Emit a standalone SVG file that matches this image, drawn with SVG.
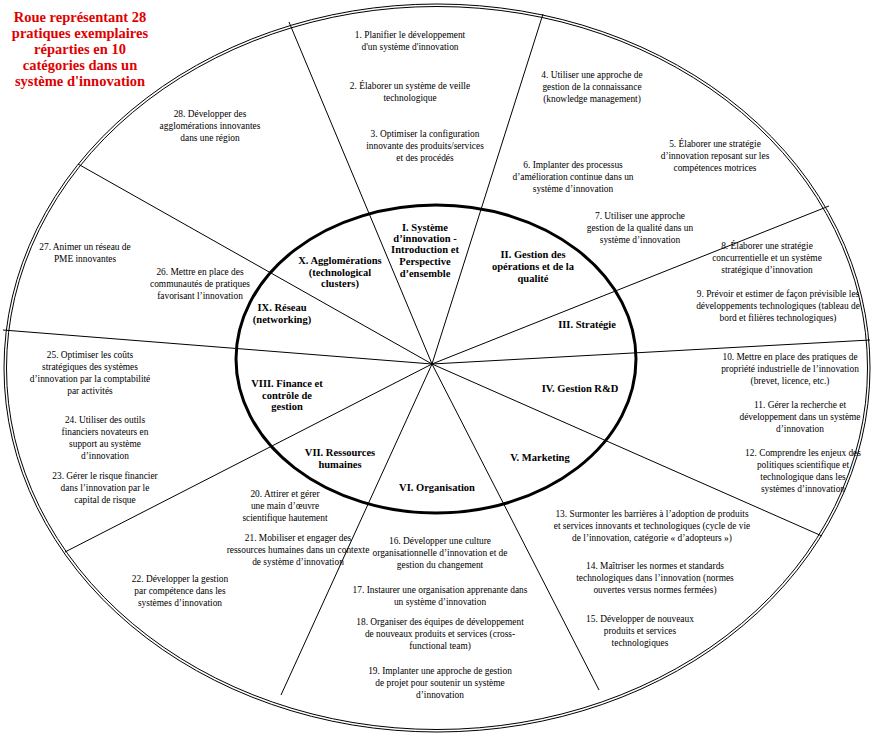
<svg xmlns="http://www.w3.org/2000/svg" width="875" height="737" viewBox="0 0 875 737">
<style>
.t{font-family:"Liberation Serif","Times New Roman","DejaVu Serif",serif;font-size:9.4px;fill:#000;text-anchor:middle}
.c{font-family:"Liberation Serif","Times New Roman","DejaVu Serif",serif;font-size:10.5px;font-weight:bold;fill:#000;text-anchor:middle}
.r{font-family:"Liberation Serif","Times New Roman","DejaVu Serif",serif;font-size:14.5px;font-weight:bold;fill:#e00000;text-anchor:middle}
.s{stroke:#000;stroke-width:1;fill:none}
</style>
<rect width="875" height="737" fill="#fff"/>
<g id="wheel">
<ellipse cx="437" cy="368" rx="433" ry="364" class="s"/>
<ellipse cx="437" cy="368" rx="430.5" ry="361.5" class="s"/>
</g>
<g id="connectors" class="s">
<line x1="432" y1="364" x2="289" y2="22"/>
<line x1="432" y1="364" x2="543" y2="14"/>
<line x1="432" y1="364" x2="829" y2="206"/>
<line x1="432" y1="364" x2="870" y2="340"/>
<line x1="432" y1="364" x2="822" y2="536"/>
<line x1="432" y1="364" x2="599" y2="690"/>
<line x1="432" y1="364" x2="281" y2="695"/>
<line x1="432" y1="364" x2="65" y2="552"/>
<line x1="432" y1="364" x2="3" y2="330"/>
<line x1="432" y1="364" x2="78" y2="164"/>
</g>
<g id="hub"><ellipse cx="436" cy="359" rx="200" ry="154" fill="none" stroke="#000" stroke-width="3"/></g>
<g id="title"><text class="r"><tspan x="80" y="22">Roue représentant 28</tspan><tspan x="80" y="38">pratiques exemplaires</tspan><tspan x="80" y="54">réparties en 10</tspan><tspan x="80" y="70">catégories dans un</tspan><tspan x="80" y="86">système d'innovation</tspan></text></g>
<g id="cat1"><text class="c"><tspan x="425" y="231">I. Système</tspan><tspan x="425" y="242">d’innovation -</tspan><tspan x="425" y="253">Introduction et</tspan><tspan x="425" y="265">Perspective</tspan><tspan x="425" y="277">d’ensemble</tspan></text></g>
<g id="cat2"><text class="c"><tspan x="533" y="258">II. Gestion des</tspan><tspan x="533" y="270">opérations et de la</tspan><tspan x="533" y="282">qualité</tspan></text></g>
<g id="cat3"><text class="c" x="587" y="328">III. Stratégie</text></g>
<g id="cat4"><text class="c" x="580" y="392">IV. Gestion R&amp;D</text></g>
<g id="cat5"><text class="c" x="540" y="461">V. Marketing</text></g>
<g id="cat6"><text class="c" x="437" y="491">VI. Organisation</text></g>
<g id="cat7"><text class="c"><tspan x="340" y="456">VII. Ressources</tspan><tspan x="340" y="468">humaines</tspan></text></g>
<g id="cat8"><text class="c"><tspan x="287" y="387">VIII. Finance et</tspan><tspan x="287" y="399">contrôle de</tspan><tspan x="287" y="410">gestion</tspan></text></g>
<g id="cat9"><text class="c"><tspan x="282" y="311">IX. Réseau</tspan><tspan x="282" y="323">(networking)</tspan></text></g>
<g id="cat10"><text class="c"><tspan x="340" y="264">X. Agglomérations</tspan><tspan x="340" y="276">(technological</tspan><tspan x="340" y="287">clusters)</tspan></text></g>
<g id="p1"><text class="t"><tspan x="410" y="38">1. Planifier le développement</tspan><tspan x="410" y="50">d'un système d'innovation</tspan></text></g>
<g id="p2"><text class="t"><tspan x="410" y="89">2. Élaborer un système de veille</tspan><tspan x="410" y="101">technologique</tspan></text></g>
<g id="p3"><text class="t"><tspan x="425" y="137">3. Optimiser la configuration</tspan><tspan x="425" y="149">innovante des produits/services</tspan><tspan x="425" y="161">et des procédés</tspan></text></g>
<g id="p4"><text class="t"><tspan x="592" y="78">4. Utiliser une approche de</tspan><tspan x="592" y="90">gestion de la connaissance</tspan><tspan x="592" y="102">(knowledge management)</tspan></text></g>
<g id="p5"><text class="t"><tspan x="715" y="147">5. Élaborer une stratégie</tspan><tspan x="715" y="159">d’innovation reposant sur les</tspan><tspan x="715" y="171">compétences motrices</tspan></text></g>
<g id="p6"><text class="t"><tspan x="573" y="168">6. Implanter des processus</tspan><tspan x="573" y="180">d’amélioration continue dans un</tspan><tspan x="573" y="192">système d’innovation</tspan></text></g>
<g id="p7"><text class="t"><tspan x="640" y="219">7. Utiliser une approche</tspan><tspan x="640" y="231">gestion de la qualité dans un</tspan><tspan x="640" y="243">système d’innovation</tspan></text></g>
<g id="p8"><text class="t"><tspan x="767" y="249">8. Élaborer une stratégie</tspan><tspan x="767" y="261">concurrentielle et un système</tspan><tspan x="767" y="273">stratégique d’innovation</tspan></text></g>
<g id="p9"><text class="t"><tspan x="778" y="297">9. Prévoir et estimer de façon prévisible les</tspan><tspan x="778" y="309">développements technologiques (tableau de</tspan><tspan x="778" y="321">bord et filières technologiques)</tspan></text></g>
<g id="p10"><text class="t"><tspan x="790" y="360">10. Mettre en place des pratiques de</tspan><tspan x="790" y="372">propriété industrielle de l’innovation</tspan><tspan x="790" y="384">(brevet, licence, etc.)</tspan></text></g>
<g id="p11"><text class="t"><tspan x="800" y="408">11. Gérer la recherche et</tspan><tspan x="800" y="420">développement dans un système</tspan><tspan x="800" y="432">d’innovation</tspan></text></g>
<g id="p12"><text class="t"><tspan x="803" y="456">12. Comprendre les enjeux des</tspan><tspan x="803" y="468">politiques scientifique et</tspan><tspan x="803" y="480">technologique dans les</tspan><tspan x="803" y="492">systèmes d’innovation</tspan></text></g>
<g id="p13"><text class="t"><tspan x="652" y="517">13. Surmonter les barrières à l’adoption de produits</tspan><tspan x="652" y="529">et services innovants et technologiques (cycle de vie</tspan><tspan x="652" y="541">de l’innovation, catégorie « d’adopteurs »)</tspan></text></g>
<g id="p14"><text class="t"><tspan x="655" y="569">14. Maîtriser les normes et standards</tspan><tspan x="655" y="581">technologiques dans l’innovation (normes</tspan><tspan x="655" y="593">ouvertes versus normes fermées)</tspan></text></g>
<g id="p15"><text class="t"><tspan x="640" y="622">15. Développer de nouveaux</tspan><tspan x="640" y="634">produits et services</tspan><tspan x="640" y="646">technologiques</tspan></text></g>
<g id="p16"><text class="t"><tspan x="440" y="544">16. Développer une culture</tspan><tspan x="440" y="556">organisationnelle d’innovation et de</tspan><tspan x="440" y="568">gestion du changement</tspan></text></g>
<g id="p17"><text class="t"><tspan x="440" y="593">17. Instaurer une organisation apprenante dans</tspan><tspan x="440" y="605">un système d’innovation</tspan></text></g>
<g id="p18"><text class="t"><tspan x="440" y="625">18. Organiser des équipes de développement</tspan><tspan x="440" y="637">de nouveaux produits et services (cross-</tspan><tspan x="440" y="649">functional team)</tspan></text></g>
<g id="p19"><text class="t"><tspan x="440" y="674">19. Implanter une approche de gestion</tspan><tspan x="440" y="686">de projet pour soutenir un système</tspan><tspan x="440" y="698">d’innovation</tspan></text></g>
<g id="p20"><text class="t"><tspan x="285" y="497">20. Attirer et gérer</tspan><tspan x="285" y="509">une main d’œuvre</tspan><tspan x="285" y="521">scientifique hautement</tspan></text></g>
<g id="p21"><text class="t"><tspan x="298" y="541">21. Mobiliser et engager des</tspan><tspan x="298" y="553">ressources humaines dans un contexte</tspan><tspan x="298" y="565">de système d’innovation</tspan></text></g>
<g id="p22"><text class="t"><tspan x="180" y="582">22. Développer la gestion</tspan><tspan x="180" y="594">par compétence dans les</tspan><tspan x="180" y="606">systèmes d’innovation</tspan></text></g>
<g id="p23"><text class="t"><tspan x="105" y="479">23. Gérer le risque financier</tspan><tspan x="105" y="491">dans l’innovation par le</tspan><tspan x="105" y="503">capital de risque</tspan></text></g>
<g id="p24"><text class="t"><tspan x="105" y="423">24. Utiliser des outils</tspan><tspan x="105" y="435">financiers novateurs en</tspan><tspan x="105" y="447">support au système</tspan><tspan x="105" y="459">d’innovation</tspan></text></g>
<g id="p25"><text class="t"><tspan x="90" y="358">25. Optimiser les coûts</tspan><tspan x="90" y="370">stratégiques des systèmes</tspan><tspan x="90" y="382">d’innovation par la comptabilité</tspan><tspan x="90" y="394">par activités</tspan></text></g>
<g id="p26"><text class="t"><tspan x="200" y="275">26. Mettre en place des</tspan><tspan x="200" y="287">communautés de pratiques</tspan><tspan x="200" y="299">favorisant l’innovation</tspan></text></g>
<g id="p27"><text class="t"><tspan x="85" y="250">27. Animer un réseau  de</tspan><tspan x="85" y="262">PME innovantes</tspan></text></g>
<g id="p28"><text class="t"><tspan x="210" y="117">28. Développer des</tspan><tspan x="210" y="129">agglomérations innovantes</tspan><tspan x="210" y="141">dans une région</tspan></text></g>
</svg>
